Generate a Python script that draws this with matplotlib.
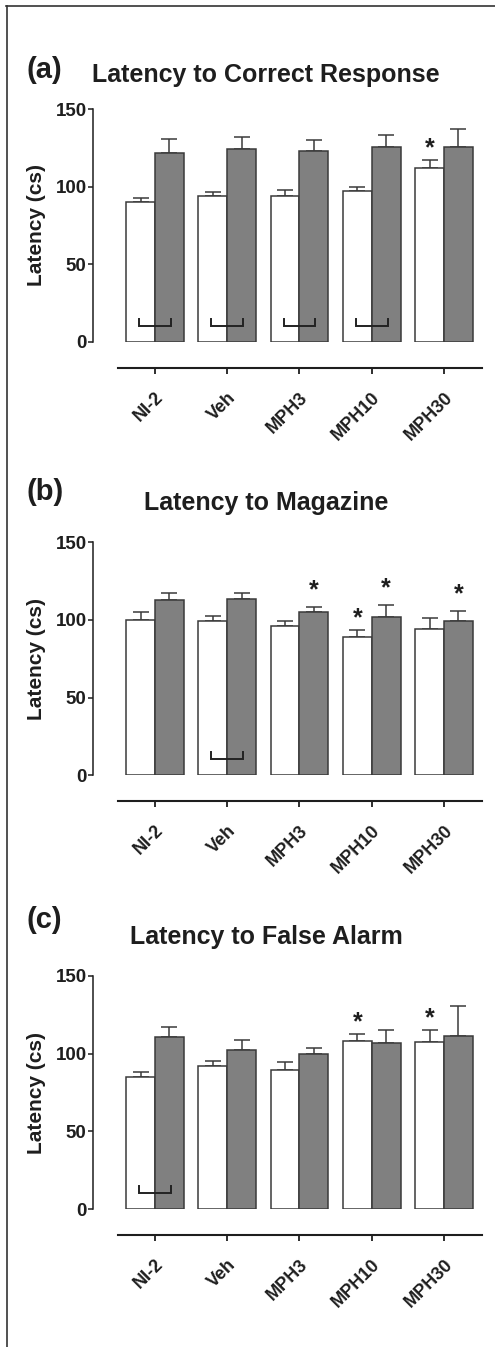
import matplotlib
matplotlib.use("Agg")
import matplotlib.pyplot as plt
from matplotlib.lines import Line2D
import numpy as np

plt.rcParams['font.family'] = ['Liberation Sans', 'DejaVu Sans']
plt.rcParams['font.weight'] = 'bold'

categories = ["NI-2", "Veh", "MPH3", "MPH10", "MPH30"]

# Panel (a) Latency to Correct Response
a_white = [90, 94, 94.3, 97, 112]
a_white_err = [2.8, 2.6, 3.6, 2.6, 5]
a_gray = [121.5, 124, 123, 125.4, 125.4]
a_gray_err = [9, 7.8, 6.9, 7.9, 11.7]
a_star_white = [4]
a_star_gray = []
a_brackets = [0, 1, 2, 3]

# Panel (b) Latency to Magazine
b_white = [100.2, 99.4, 95.9, 88.9, 94.2]
b_white_err = [4.7, 3.4, 3.2, 4.7, 6.9]
b_gray = [112.6, 113.5, 104.9, 101.7, 99.4]
b_gray_err = [4.5, 3.8, 3.6, 8.1, 6.4]
b_star_white = [3]
b_star_gray = [2, 3, 4]
b_brackets = [1]

# Panel (c) Latency to False Alarm
c_white = [85.2, 92, 89.5, 108, 107.3]
c_white_err = [2.8, 3.5, 4.9, 4.5, 8.2]
c_gray = [110.8, 102.4, 99.6, 107.1, 111.6]
c_gray_err = [6.4, 6.6, 3.8, 8.2, 18.9]
c_star_white = [3, 4]
c_star_gray = []
c_brackets = [0]

panels = [
    ("(a)", "Latency to Correct Response", a_white, a_white_err, a_gray, a_gray_err, a_star_white, a_star_gray, a_brackets),
    ("(b)", "Latency to Magazine", b_white, b_white_err, b_gray, b_gray_err, b_star_white, b_star_gray, b_brackets),
    ("(c)", "Latency to False Alarm", c_white, c_white_err, c_gray, c_gray_err, c_star_white, c_star_gray, c_brackets),
]

W, H = 495, 1347
fig = plt.figure(figsize=(W / 100, H / 100), dpi=100)

edge = "#3a3a3a"
txt = "#1e1e1e"
ax_left = 93 / W
ax_width = (482 - 93) / W
ax_h = 233 / H
# (axes top px, label y px, title y px)
layout = [(109, 70, 75), (542.3, 492, 503), (976, 920, 937)]

bw = 0.4
x = np.arange(len(categories))

for (lab, title, w, we, g, ge, sw, sg, br), (top, ly, ty) in zip(panels, layout):
    bottom = 1 - (top + 233) / H
    ax = fig.add_axes([ax_left, bottom, ax_width, ax_h])
    # spines first (set_position resets ticks)
    ax.spines["top"].set_visible(False)
    ax.spines["right"].set_visible(False)
    ax.spines["left"].set_linewidth(1.1)
    ax.spines["left"].set_color(txt)
    ax.spines["bottom"].set_position(("outward", 18.7))
    ax.spines["bottom"].set_linewidth(1.5)
    ax.spines["bottom"].set_color(txt)

    ax.bar(x - bw / 2, w, width=bw, color="white", edgecolor=edge, linewidth=1.1, zorder=2)
    ax.bar(x + bw / 2, g, width=bw, color="#808080", edgecolor=edge, linewidth=1.1, zorder=2)
    ax.errorbar(x - bw / 2, w, yerr=[np.zeros(len(w)), we], fmt="none", ecolor=edge,
                elinewidth=1.1, capsize=5.5, capthick=1.1, zorder=1)
    ax.errorbar(x + bw / 2, g, yerr=[np.zeros(len(g)), ge], fmt="none", ecolor=edge,
                elinewidth=1.1, capsize=5.5, capthick=1.1, zorder=1)
    for i in sw:
        ax.text(i - bw / 2, w[i] + we[i] + 7.5, "*", ha="center", va="center",
                fontsize=18, fontweight="bold", color=txt)
    for i in sg:
        ax.text(i + bw / 2, g[i] + ge[i] + 10.5, "*", ha="center", va="center",
                fontsize=18, fontweight="bold", color=txt)
    for i in br:
        ax.plot([i - 0.22, i - 0.22, i + 0.22, i + 0.22], [15, 10.5, 10.5, 15],
                color="#222222", linewidth=1.4, zorder=3, solid_joinstyle="miter")

    ax.set_xlim(-0.858, 4.526)
    ax.set_ylim(0, 150)
    ax.spines["left"].set_bounds(0, 150)
    ax.spines["bottom"].set_bounds(-0.512, 4.526)
    ax.set_yticks([0, 50, 100, 150])
    ax.set_xticks(x)
    ax.tick_params(axis="y", length=3.6, width=1.1, labelsize=13.5, colors=txt, pad=1)
    ax.tick_params(axis="x", length=4, width=1.3, pad=11, colors=txt, labelsize=13)
    ax.set_xticklabels(categories, rotation=45, ha="right", va="top",
                       rotation_mode="anchor", fontweight="bold", fontsize=13)
    for t in ax.get_yticklabels():
        t.set_fontweight("bold")
    ax.patch.set_alpha(0)
    ax.set_ylabel("Latency (cs)", fontsize=15, fontweight="bold", color=txt, labelpad=7)

    fig.text(27 / W, 1 - ly / H, lab, ha="left", va="center", fontsize=21,
             fontweight="bold", color=txt)
    fig.text(266 / W, 1 - ty / H, title, ha="center", va="center", fontsize=18,
             fontweight="bold", color=txt)

# outer frame (top and left edges)
fig.add_artist(Line2D([6 / W, 1], [1 - 5.5 / H, 1 - 5.5 / H], transform=fig.transFigure,
                      color="#333333", linewidth=1.2))
fig.add_artist(Line2D([6.5 / W, 6.5 / W], [0, 1 - 5.5 / H], transform=fig.transFigure,
                      color="#333333", linewidth=1.2))

fig.savefig("out.png", dpi=100)
